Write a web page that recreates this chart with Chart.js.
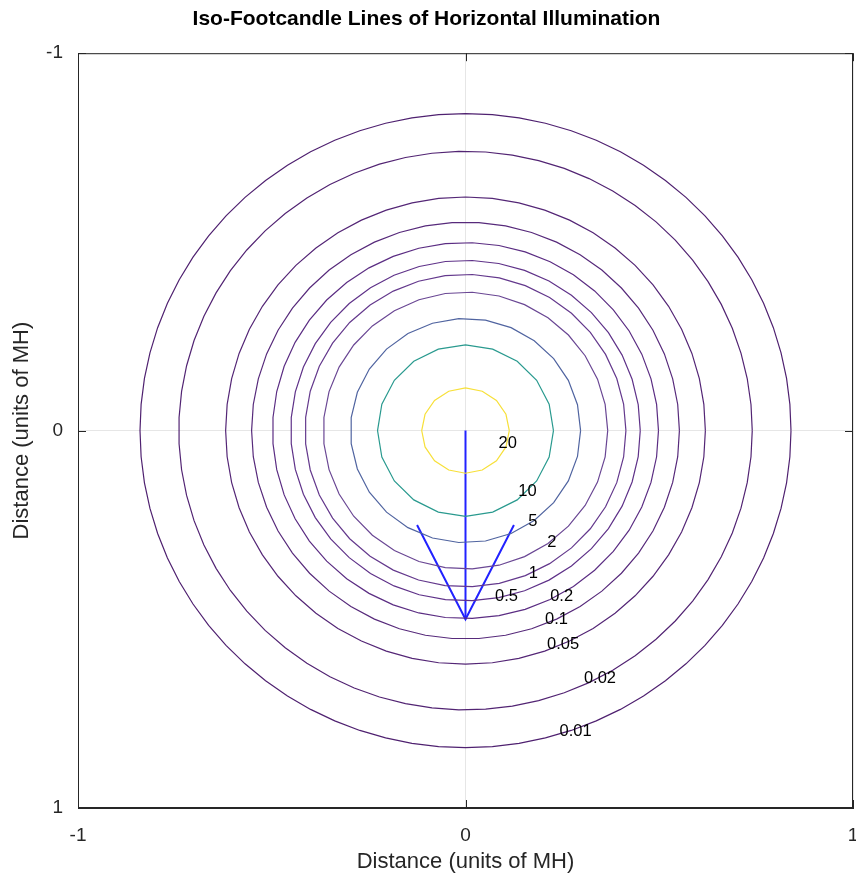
<!DOCTYPE html>
<html>
<head>
<meta charset="utf-8">
<script src="https://cdn.jsdelivr.net/npm/chart.js@4.4.1/dist/chart.umd.min.js"></script>
<style>
  body { margin: 0; background: #fff; }
  canvas { display: block; }
</style>
</head>
<body>
<canvas id="isoChart" width="856" height="878"></canvas>
<script>
// iso-footcandle levels and the radius (units of MH) each contour was read at
const levels = [20, 10, 5, 2, 1, 0.5, 0.2, 0.1, 0.05, 0.02, 0.01];
const radii = [0.113, 0.227, 0.297, 0.367, 0.414, 0.451, 0.498, 0.552, 0.619, 0.740, 0.840];
const lineColors = ['#f7e03a', '#2a9a8f', '#5064a0', '#6a4794', '#64398d', '#5f3289', '#5b2d83', '#572a7b', '#542676', '#522473', '#4f2170'];

// where each contour label sits (data units)
const labelX = [0.109, 0.160, 0.174, 0.223, 0.175, 0.106, 0.248, 0.235, 0.252, 0.347, 0.284];
const labelY = [0.035, 0.161, 0.241, 0.296, 0.378, 0.439, 0.439, 0.501, 0.567, 0.658, 0.797];

// luminaire sketch (blue)
const stemX = [0, 0];
const stemY = [0, 0.5];
const vX = [-0.125, 0, 0.125];
const vY = [0.25, 0.5, 0.25];

const tickValues = [-1, 0, 1];

function contourPoints(r) {
    const n = Math.max(16, Math.round(r * 90));
    const pts = [];
    for (let k = 0; k <= n; k++) {
        const a = 2 * Math.PI * k / n;
        pts.push({ x: r * Math.cos(a), y: r * Math.sin(a) });
    }
    return pts;
}

const datasets = levels.map((lv, i) => ({
    label: String(lv),
    data: contourPoints(radii[i]),
    showLine: true,
    borderColor: lineColors[i],
    borderWidth: 1.2,
    pointRadius: 0,
    fill: false
}));
datasets.push({
    label: 'stem',
    data: stemX.map((v, i) => ({ x: v, y: stemY[i] })),
    showLine: true, borderColor: '#2222ff', borderWidth: 2, pointRadius: 0
});
datasets.push({
    label: 'beam',
    data: vX.map((v, i) => ({ x: v, y: vY[i] })),
    showLine: true, borderColor: '#2222ff', borderWidth: 2, pointRadius: 0
});

const FONT = '"Liberation Sans", Arial, Helvetica, sans-serif';

const extras = {
    id: 'extras',
    afterDatasetsDraw(chart) {
        const { ctx, chartArea: a, scales: { x, y } } = chart;
        ctx.save();
        // contour labels
        ctx.font = '16.5px ' + FONT;
        ctx.fillStyle = '#000';
        ctx.textAlign = 'center';
        ctx.textBaseline = 'middle';
        levels.forEach((lv, i) => {
            ctx.fillText(String(lv), x.getPixelForValue(labelX[i]), y.getPixelForValue(labelY[i]));
        });
        // frame
        ctx.strokeStyle = '#262626';
        ctx.lineWidth = 1;
        ctx.strokeRect(a.left + 0.5, a.top + 0.5, a.right - a.left - 1, a.bottom - a.top - 1);
        // inward ticks
        ctx.beginPath();
        tickValues.forEach(v => {
            const px = Math.round(x.getPixelForValue(v)) + 0.5;
            ctx.moveTo(px, a.bottom); ctx.lineTo(px, a.bottom - 8);
            ctx.moveTo(px, a.top); ctx.lineTo(px, a.top + 8);
            const py = Math.round(y.getPixelForValue(v)) + 0.5;
            ctx.moveTo(a.left, py); ctx.lineTo(a.left + 8, py);
            ctx.moveTo(a.right, py); ctx.lineTo(a.right - 8, py);
        });
        ctx.stroke();
        ctx.restore();
    }
};

new Chart(document.getElementById('isoChart').getContext('2d'), {
    type: 'scatter',
    data: { datasets: datasets },
    plugins: [extras],
    options: {
        responsive: false,
        animation: false,
        layout: { padding: { right: 3, left: 0, bottom: 0, top: 0 } },
        plugins: {
            legend: { display: false },
            tooltip: { enabled: false },
            title: {
                display: true,
                text: 'Iso-Footcandle Lines of Horizontal Illumination',
                color: '#000',
                font: { family: FONT, size: 21, weight: 'bold' },
                padding: { top: 7, bottom: 21 }
            }
        },
        scales: {
            x: {
                type: 'linear',
                min: -1, max: 1,
                afterFit(s) { s.height = 70; s.paddingLeft = 0; s.paddingRight = 0; },
                afterBuildTicks(s) { s.ticks = tickValues.map(v => ({ value: v })); },
                grid: { color: '#e6e6e6', drawTicks: false },
                border: { color: '#262626' },
                ticks: { color: '#262626', padding: 16, font: { family: FONT, size: 19 } },
                title: {
                    display: true, text: 'Distance (units of MH)', color: '#262626',
                    font: { family: FONT, size: 22 }, padding: { top: 0, bottom: 3 }
                }
            },
            y: {
                type: 'linear',
                min: -1, max: 1,
                reverse: true,
                afterFit(s) { s.width = 78; s.paddingTop = 0; s.paddingBottom = 0; },
                afterBuildTicks(s) { s.ticks = tickValues.map(v => ({ value: v })); },
                grid: { color: '#e6e6e6', drawTicks: false },
                border: { color: '#262626' },
                ticks: { color: '#262626', padding: 15, font: { family: FONT, size: 19 } },
                title: {
                    display: true, text: 'Distance (units of MH)', color: '#262626',
                    font: { family: FONT, size: 22 }, padding: { top: 9, bottom: 0 }
                }
            }
        }
    }
});
</script>
</body>
</html>
